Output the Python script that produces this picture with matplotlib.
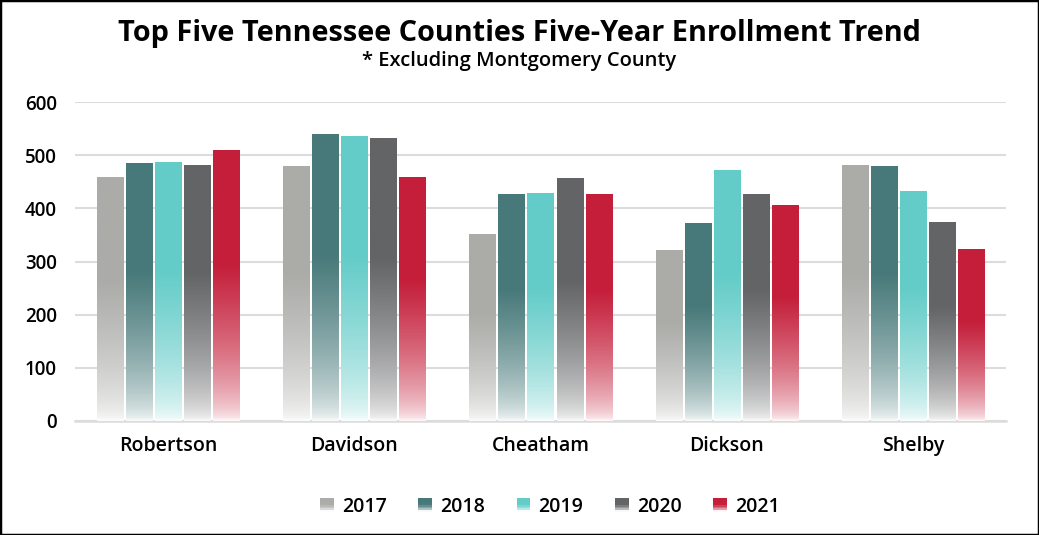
import numpy as np
import matplotlib
matplotlib.use("Agg")
import matplotlib.pyplot as plt
from matplotlib.patches import Rectangle, Patch
from matplotlib.legend_handler import HandlerBase

# --- data ---
counties = ["Robertson", "Davidson", "Cheatham", "Dickson", "Shelby"]
years = ["2017", "2018", "2019", "2020", "2021"]
v2017 = [458, 479, 351, 321, 481]
v2018 = [485, 539, 426, 372, 479]
v2019 = [487, 535, 428, 471, 432]
v2020 = [481, 532, 456, 426, 373]
v2021 = [509, 458, 426, 405, 322]
colors = ["#abaca8", "#48797a", "#64ccc8", "#636466", "#c41e3a"]

FONT = "Open Sans"
plt.rcParams["font.family"] = [FONT, "DejaVu Sans"]


def fade(color, n=120, solid_at=0.58):
    # solid colour on top, washing out to white near the base
    rgb = np.array(matplotlib.colors.to_rgb(color))
    t = np.linspace(0, 1, n)
    s = np.clip(t / solid_at, 0, 1)
    mix = 0.04 + 0.96 * s ** 0.6
    img = np.ones((n, 1, 3)) * (1 - mix)[:, None, None] + rgb[None, None, :] * mix[:, None, None]
    return img


class GradientHandler(HandlerBase):
    def create_artists(self, legend, orig_handle, xdescent, ydescent, width, height, fontsize, trans):
        img = fade(orig_handle.get_facecolor(), n=8)
        side = height * 1.0
        x0 = xdescent + (width - side) / 2
        arts = []
        for i in range(8):
            r = Rectangle((x0, -ydescent + side * i / 8), side, side / 8 + 0.3,
                          facecolor=img[i, 0], edgecolor="none", transform=trans)
            arts.append(r)
        return arts


fig = plt.figure(figsize=(10.39, 5.35), dpi=100)
ax = fig.add_axes([0.0722, 0.2131, 0.8960, 0.5962])

x = np.arange(len(counties))
series = [v2017, v2018, v2019, v2020, v2021]
width = 0.14
step = 0.156
for i, (vals, c) in enumerate(zip(series, colors)):
    off = (i - 2) * step
    bars = ax.bar(x + off, vals, width=width, color="none", edgecolor="none", zorder=3)
    for b in bars:
        x0, h, w = b.get_x(), b.get_height(), b.get_width()
        ax.imshow(fade(c), extent=[x0, x0 + w, 0, h], origin="lower",
                  aspect="auto", zorder=3, interpolation="bilinear")

ax.set_xlim(-0.5, len(counties) - 0.5)
ax.set_ylim(0, 600)
ax.set_yticks(range(0, 601, 100))
ax.set_xticks(x)
ax.set_xticklabels(counties, fontsize=14, fontweight="semibold")
ax.tick_params(axis="y", labelsize=13.5, length=0, pad=13)
ax.tick_params(axis="x", length=0, pad=11)
for lab in ax.get_yticklabels():
    lab.set_fontweight("semibold")
ax.grid(axis="y", color="#dcdcdc", linewidth=1.5, zorder=0)
ax.set_axisbelow(True)
for s in ["top", "right", "left"]:
    ax.spines[s].set_visible(False)
ax.spines["bottom"].set_color("#dcdcdc")
ax.spines["bottom"].set_linewidth(1.8)

fig.text(0.5, 0.938, "Top Five Tennessee Counties Five-Year Enrollment Trend",
         ha="center", va="center", fontsize=20.8, fontweight="bold")
fig.text(0.5, 0.886, "* Excluding Montgomery County",
         ha="center", va="center", fontsize=14.5, fontweight="semibold")

handles = [Patch(facecolor=c, label=y) for c, y in zip(colors, years)]
fig.legend(handles=handles, loc="center", bbox_to_anchor=(0.529, 0.053), ncol=5,
           frameon=False, handler_map={Patch: GradientHandler()},
           handlelength=0.75, handletextpad=0.4, columnspacing=1.6,
           prop={"weight": "semibold", "size": 14})

fig.patches.append(Rectangle((0, 0), 1, 1, transform=fig.transFigure, fill=False,
                             edgecolor="black", linewidth=2.5))

fig.savefig("out.png", dpi=100, facecolor="white")
